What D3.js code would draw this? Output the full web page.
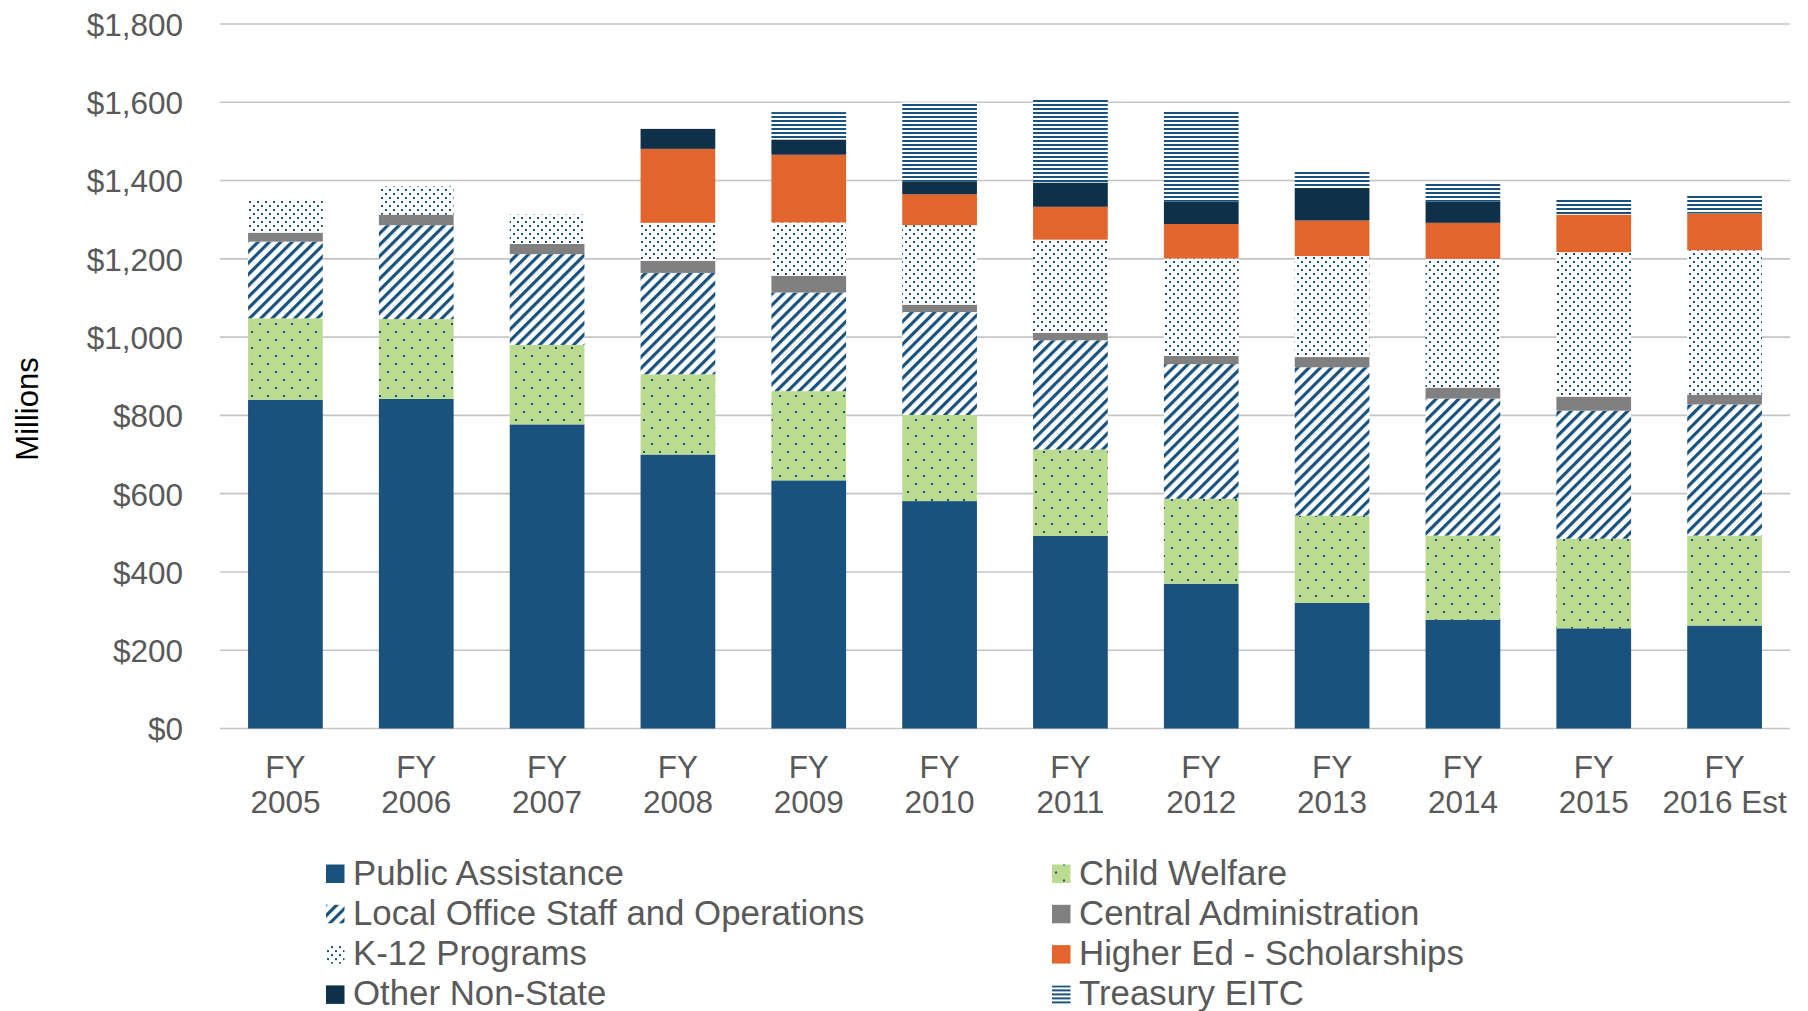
<!DOCTYPE html>
<html>
<head>
<meta charset="utf-8">
<script src="https://cdn.jsdelivr.net/npm/d3@7"></script>
<style>
  html, body { margin: 0; padding: 0; background: #ffffff; }
  svg { display: block; }
  text { font-family: "Liberation Sans", Arial, sans-serif; fill: #595959; }
</style>
</head>
<body>
<svg id="chart" width="1808" height="1011"></svg>
<script>
// ---------------- DATA ----------------
const categories = ["FY|2005","FY|2006","FY|2007","FY|2008","FY|2009","FY|2010","FY|2011","FY|2012","FY|2013","FY|2014","FY|2015","FY|2016 Est"];
const seriesNames = ["Public Assistance","Child Welfare","Local Office Staff and Operations","Central Administration","K-12 Programs","Higher Ed - Scholarships","Other Non-State","Treasury EITC"];
const publicAssistance = [840, 842, 777, 700, 634, 581, 492, 370, 321, 278, 256, 263];
const childWelfare     = [208, 204, 203, 205, 228, 220, 221, 217, 223, 215, 229, 230];
const localOffice      = [196, 240, 232, 259, 252, 263, 279, 344, 379, 350, 327, 335];
const centralAdmin     = [23, 27, 26, 31, 43, 19, 19, 21, 26, 28, 36, 25];
const k12Programs      = [84, 72, 75, 97, 136, 203, 238, 249, 258, 329, 369, 369];
const higherEd         = [0, 0, 0, 189, 173, 79, 84, 88, 91, 92, 96, 94];
const otherNonState    = [0, 0, 0, 51, 39, 33, 62, 57, 83, 54, 0, 0];
const treasuryEITC     = [0, 0, 0, 0, 70, 202, 214, 233, 44, 49, 41, 48];
const yTicks = [0, 200, 400, 600, 800, 1000, 1200, 1400, 1600, 1800];

const seriesValues = [publicAssistance, childWelfare, localOffice, centralAdmin, k12Programs, higherEd, otherNonState, treasuryEITC];

// ---------------- STYLE ----------------
const BLUE = "#18527D";
const fills = ["#18527D", "url(#pCW)", "url(#pLO)", "#808080", "url(#pK12)", "#E2652E", "#0E3049", "url(#pEITC)"];

const svg = d3.select("#chart");
const defs = svg.append("defs");

// Child welfare: green with staggered dark dots
const pCW = defs.append("pattern").attr("id","pCW").attr("patternUnits","userSpaceOnUse").attr("width",16).attr("height",16);
pCW.append("rect").attr("width",16).attr("height",16).attr("fill","#BBDB90");
pCW.append("rect").attr("x",3).attr("y",3).attr("width",2).attr("height",2).attr("fill",BLUE);
pCW.append("rect").attr("x",11).attr("y",11).attr("width",2).attr("height",2).attr("fill",BLUE);

// Local office: diagonal stripes
const pLO = defs.append("pattern").attr("id","pLO").attr("patternUnits","userSpaceOnUse").attr("width",8).attr("height",8).attr("patternTransform","rotate(45)");
pLO.append("rect").attr("width",8).attr("height",8).attr("fill","#ffffff");
pLO.append("rect").attr("x",0).attr("y",0).attr("width",3.2).attr("height",8).attr("fill",BLUE);

// K-12: white with small dots
const pK = defs.append("pattern").attr("id","pK12").attr("patternUnits","userSpaceOnUse").attr("width",8).attr("height",8);
pK.append("rect").attr("width",8).attr("height",8).attr("fill","#ffffff");
pK.append("rect").attr("x",1).attr("y",1).attr("width",2).attr("height",2).attr("fill",BLUE);
pK.append("rect").attr("x",5).attr("y",5).attr("width",2).attr("height",2).attr("fill",BLUE);

// EITC: horizontal lines
const pE = defs.append("pattern").attr("id","pEITC").attr("patternUnits","userSpaceOnUse").attr("width",4).attr("height",4);
pE.append("rect").attr("width",4).attr("height",4).attr("fill","#ffffff");
pE.append("rect").attr("x",0).attr("y",0).attr("width",4).attr("height",2).attr("fill",BLUE);

// ---------------- SCALES ----------------
const x = d3.scaleBand().domain(categories).range([220, 1790]).paddingInner(0.429).paddingOuter(0.2145);
const y = d3.scaleLinear().domain([0, 1800]).range([728.5, 24]);

// gridlines
svg.append("g").selectAll("line").data(yTicks).join("line")
  .attr("x1", 220).attr("x2", 1790)
  .attr("y1", d => y(d)).attr("y2", d => y(d))
  .attr("stroke", "#C4C4C4").attr("stroke-width", 1.6);

// y axis labels
const yAxis = d3.axisLeft(y).tickValues(yTicks).tickSize(0).tickPadding(0)
  .tickFormat(d => "$" + d3.format(",")(d));
const yg = svg.append("g").attr("transform", "translate(183,0)").call(yAxis);
yg.select(".domain").remove();
yg.selectAll("text").style("font-size", "31.5px").attr("fill", "#595959")
  .style("font-family", '"Liberation Sans", Arial, sans-serif').attr("dy", "0.36em");

// stacked data
const table = categories.map((c, i) => {
  const row = { cat: c };
  seriesNames.forEach((s, j) => row[s] = seriesValues[j][i]);
  return row;
});
const stacked = d3.stack().keys(seriesNames)(table);

svg.append("g").selectAll("g").data(stacked).join("g")
  .attr("fill", (d, i) => fills[i])
  .selectAll("rect").data(d => d.filter(p => p[1] - p[0] > 0)).join("rect")
  .attr("x", d => x(d.data.cat))
  .attr("width", x.bandwidth())
  .attr("y", d => y(d[1]))
  .attr("height", d => y(d[0]) - y(d[1]));

// x axis labels
const xAxis = d3.axisBottom(x).tickSize(0).tickPadding(0).tickFormat(() => "");
const xg = svg.append("g").attr("transform", "translate(0,728.5)").call(xAxis);
xg.select(".domain").remove();
xg.selectAll(".tick").each(function(d) {
  const parts = d.split("|");
  const t = d3.select(this).append("text")
    .attr("text-anchor", "middle")
    .style("font-size", "31.5px")
    .attr("fill", "#595959")
    .style("font-family", '"Liberation Sans", Arial, sans-serif');
  t.append("tspan").attr("x", 0).attr("y", 49.5).text(parts[0]);
  t.append("tspan").attr("x", 0).attr("y", 84.5).text(parts[1]);
});

// y axis title
svg.append("text")
  .attr("transform", "translate(38,409) rotate(-90)")
  .attr("text-anchor", "middle")
  .style("font-size", "31px")
  .style("fill", "#000000")
  .text("Millions");

// legend
const legendOrder = [0, 1, 2, 3, 4, 5, 6, 7];
const legend = svg.append("g");
legendOrder.forEach((si, k) => {
  const col = k % 2, row = Math.floor(k / 2);
  const lx = col === 0 ? 326 : 1052;
  const ly = 884.5 + row * 40.3;
  const g = legend.append("g").attr("transform", `translate(${lx},${ly})`);
  g.append("rect").attr("x", 0).attr("y", -20).attr("width", 18.5).attr("height", 18.5).attr("fill", fills[si]);
  g.append("text").attr("x", 27).attr("y", 0).style("font-size", "34.8px").attr("fill", "#595959").text(seriesNames[si]);
});
</script>
</body>
</html>
